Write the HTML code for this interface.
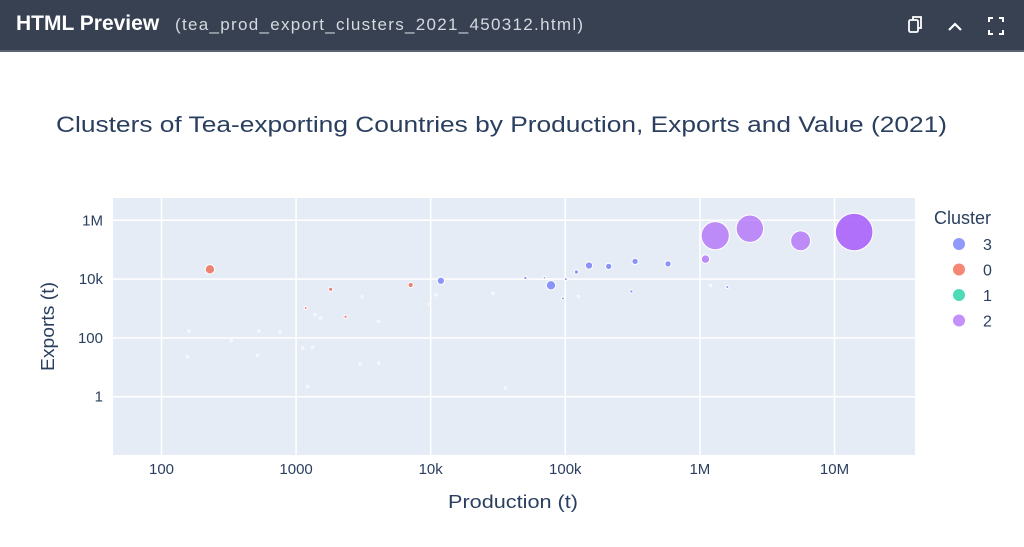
<!DOCTYPE html>
<html><head><meta charset="utf-8"><style>
html,body{margin:0;padding:0;width:1024px;height:547px;overflow:hidden;background:#fff;font-family:"Liberation Sans",sans-serif}
#hdr{position:absolute;left:0;top:0;width:1024px;height:50px;background:#374151;border-bottom:2px solid #5b6270}
#hdr .t{position:absolute;left:16px;top:12px;color:#fff;font-weight:bold;font-size:21px}
#hdr .f{position:absolute;left:175px;top:15px;color:#d5d9e0;font-size:17px;letter-spacing:1.3px}
</style></head><body>
<div id="hdr">
<span class="t">HTML Preview</span>
<span class="f">(tea_prod_export_clusters_2021_450312.html)</span>
<svg style="position:absolute;left:905px;top:14px" width="110" height="24">
<g fill="none" stroke="#fff" stroke-width="1.8"><rect x="4" y="6" width="9" height="12" rx="1.5"/><path d="M8 6V3h8v11h-3"/></g>
<path d="M44 16l6-6 6 6" fill="none" stroke="#fff" stroke-width="2.2"/>
<path d="M84 8V4h4M94 4h4v4M98 16v4h-4M88 20h-4v-4" fill="none" stroke="#fff" stroke-width="2"/>
</svg>
</div>
<svg id="chart" width="1024" height="497" style="position:absolute;left:0;top:50px">
<g transform="translate(0,-50)" id="root"></g>
</svg>
<script>
const prodValues=[229,1807,7100,1178,2330,11900,50500,78300,70000,101000,96000,121000,150000,210000,330000,310000,580000,1100000,1300000,2350000,5600000,14000000,1600000,
 3100,1380,1520,4100,11000,9800,29000,160,530,760,1120,1330,330,515,156,3000,4100,1220,1200000,36000,125000];
const exportValues=[21500,4500,6300,1030,525,8800,11000,6150,11200,10000,2200,17500,29000,27000,40000,3800,33000,48000,300000,520000,200000,400000,5400,
 2500,620,480,360,2900,1350,3300,170,170,155,45,48,80,25,23,13,14,2.2,6000,2,2600];
const clusterValues=[0,0,0,0,0,3,3,3,3,3,3,3,3,3,3,3,3,2,2,2,2,2,3,
 -1,-1,-1,-1,-1,-1,-1,-1,-1,-1,-1,-1,-1,-1,-1,-1,-1,-1,-1,-1,-1];
const valueValues=[20,4,6,2,2.5,12,2.5,20,1.5,2,2,4,12,9,9,2.5,9,16,180,170,90,320,2,
 1,1,1,1,1,1,1,1,1,1,1,1,1,1,1,1,1,1,1,1,1];
const xTickVals=[100,1000,10000,100000,1000000,10000000];
const xTickLabels=["100","1000","10k","100k","1M","10M"];
const yTickVals=[1,100,10000,1000000];
const yTickLabels=["1","100","10k","1M"];
const legendLabels=["3","0","1","2"];
const legendClusters=[3,0,1,2];

const NS="http://www.w3.org/2000/svg";
const root=document.getElementById('root');
const PL=113,PR=915,PT=198,PB=455;
const xs=v=>161.5+(Math.log10(v)-2)*134.6;
const ys=v=>396.7-Math.log10(v)*29.4;
const colors={3:"#636EFA",0:"#EF553B",1:"#00CC96",2:"#AB63FA"};
function mk(tag,attrs,parent){const e=document.createElementNS(NS,tag);for(const k in attrs)e.setAttribute(k,attrs[k]);(parent||root).appendChild(e);return e;}

let bg=mk('rect',{x:PL,y:PT,width:PR-PL,height:PB-PT,fill:'#E5ECF6'});


xTickVals.forEach((v,i)=>{
 let l=mk('line',{x1:xs(v),x2:xs(v),y1:PT,y2:PB,stroke:'#fff','stroke-width':1.5});
 
 
 let t=mk('text',{x:xs(v),y:474,'text-anchor':'middle','font-size':15,fill:'#2a3f5f'});t.textContent=xTickLabels[i];
 
 
});
yTickVals.forEach((v,i)=>{
 let l=mk('line',{x1:PL,x2:PR,y1:ys(v),y2:ys(v),stroke:'#fff','stroke-width':1.5});
 
 
 let t=mk('text',{x:103,y:ys(v)+5,'text-anchor':'end','font-size':15,fill:'#2a3f5f'});t.textContent=yTickLabels[i];
 
 
});
const order=prodValues.map((_,i)=>i).sort((a,b)=>valueValues[b]-valueValues[a]);
order.forEach(i=>{
 const c=clusterValues[i];
 const r=Math.max(1.2,Math.sqrt(valueValues[i])*1.05);
 const big=valueValues[i]>300;
 let p=mk('circle',{cx:xs(prodValues[i]),cy:ys(exportValues[i]),r:r,
  fill:c<0?'#E5ECF6':colors[c],'fill-opacity':c<0?1:(big?0.9:0.7),stroke:'#fff','stroke-width':c<0?0.8:1});
 
 
});
let title=mk('text',{x:56,y:132,'font-size':22,fill:'#2a3f5f',textLength:891,lengthAdjust:'spacingAndGlyphs'});
title.textContent="Clusters of Tea-exporting Countries by Production, Exports and Value (2021)";


let xt=mk('text',{x:448,y:508,'font-size':18,fill:'#2a3f5f',textLength:130,lengthAdjust:'spacingAndGlyphs'});
xt.textContent="Production (t)";


let yt=mk('text',{x:-44,y:0,'font-size':18,fill:'#2a3f5f',textLength:89,lengthAdjust:'spacingAndGlyphs',transform:'translate(54,327) rotate(-90)'});
yt.textContent="Exports (t)";


let lt=mk('text',{x:934,y:224,'font-size':18,fill:'#2a3f5f'});
lt.textContent="Cluster";


legendLabels.forEach((lab,i)=>{
 const y=244+i*25.5;
 let m=mk('circle',{cx:959,cy:y,r:6,fill:colors[legendClusters[i]],'fill-opacity':0.7});
 
 
 let t=mk('text',{x:983,y:y+6,'font-size':16,fill:'#2a3f5f'});t.textContent=lab;
 
 
});
</script>
</body></html>
